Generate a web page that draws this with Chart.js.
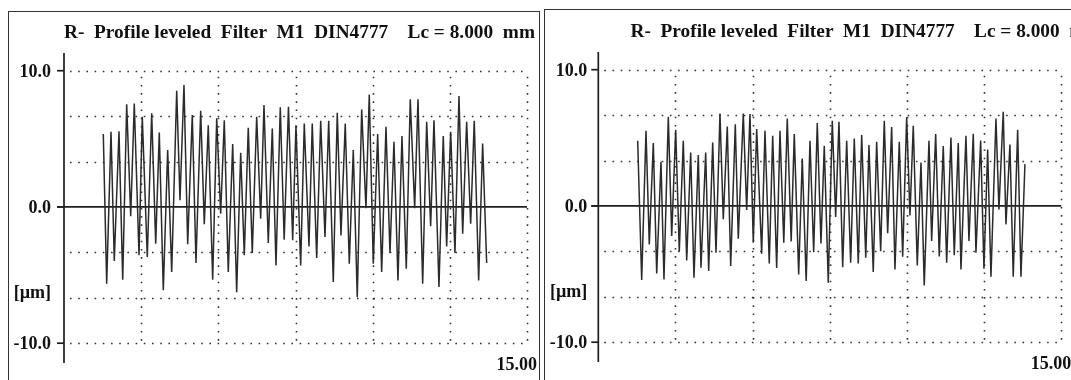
<!DOCTYPE html>
<html>
<head>
<meta charset="utf-8">
<script src="https://cdn.jsdelivr.net/npm/chart.js@4.4.1/dist/chart.umd.min.js"></script>
<style>
  html, body { margin: 0; padding: 0; background: #fff; width: 1071px; height: 380px; overflow: hidden; }
  .frame { position: absolute; border: 1px solid #333; box-sizing: border-box; }
  canvas { position: absolute; }
</style>
</head>
<body>
<div class="frame" style="left:8px; top:11px; width:532px; height:420px;"></div>
<div class="frame" style="left:544px; top:9px; width:600px; height:420px;"></div>
<canvas id="profileA" width="540" height="380" style="left:0; top:0;"></canvas>
<canvas id="profileB" width="536" height="380" style="left:535px; top:-1px;"></canvas>
<script>
// Heading and axis texts
const titleText = 'R-  Profile leveled  Filter  M1  DIN4777    Lc = 8.000  mm';
const unitLabel = '[\u00b5m]';
const lengthLabel = '15.00';

// Vertical axis: labelled ticks and dotted grid levels [µm]
const yTickValues = [10, 0, -10];
const yTickLabels = ['10.0', '0.0', '-10.0'];
const yGridValues = [10, 6.667, 3.333, -3.333, -6.667, -10];

// Traverse axis: dotted grid positions [mm]
const xGridValues = [2.5, 5, 7.5, 10, 12.5, 15];

// Profile A: peak tips and valley bottoms (position in mm, height in µm)
const aPeakPos = [1.273, 1.523, 1.782, 2.031, 2.277, 2.536, 2.841, 3.087, 3.359, 3.651,
  3.887, 4.156, 4.428, 4.674, 4.947, 5.193, 5.465, 5.724, 5.970, 6.242,
  6.479, 6.748, 7.007, 7.272, 7.515, 7.784, 8.043, 8.316, 8.575, 8.853,
  9.112, 9.372, 9.644, 9.890, 10.162, 10.431, 10.690, 10.949, 11.218, 11.468,
  11.750, 11.986, 12.287, 12.527, 12.796, 13.045, 13.291, 13.563];
const aPeakHeight = [5.35, 5.51, 5.56, 7.53, 7.60, 6.62, 6.87, 5.47, 4.17, 8.53,
  8.95, 6.74, 7.06, 6.00, 6.50, 6.37, 4.61, 3.97, 5.81, 6.62,
  7.48, 5.76, 7.31, 7.36, 6.00, 6.13, 6.13, 6.32, 6.32, 6.91,
  6.13, 4.17, 7.16, 8.26, 5.35, 5.88, 4.78, 5.20, 7.90, 7.90,
  6.26, 6.37, 5.20, 5.51, 8.14, 6.26, 6.32, 4.66];
const aValleyPos = [1.383, 1.629, 1.902, 2.161, 2.430, 2.698, 2.971, 3.217, 3.489, 3.758,
  4.007, 4.276, 4.545, 4.817, 5.076, 5.322, 5.594, 5.841, 6.100, 6.372,
  6.618, 6.868, 7.133, 7.409, 7.668, 7.937, 8.186, 8.455, 8.724, 8.973,
  9.242, 9.501, 9.783, 10.020, 10.292, 10.561, 10.820, 11.089, 11.361, 11.620,
  11.879, 12.148, 12.397, 12.666, 12.916, 13.175, 13.434, 13.693];
const aValleyHeight = [-5.63, -3.97, -5.34, -0.68, -3.55, -3.68, -2.70, -6.12, -4.78, 0.49,
  -2.74, -4.12, -1.27, -5.34, -0.50, -4.78, -6.25, -3.55, -3.38, -0.86,
  -2.65, -4.29, -2.40, -2.45, -4.29, -2.90, -3.75, -2.20, -5.51, -2.10,
  -4.17, -6.62, -0.10, -4.17, -4.78, -3.38, -5.39, -4.53, -0.10, -5.63,
  -1.42, -5.88, -2.90, -3.38, -1.96, -1.23, -5.39, -4.12];

// Profile B: peak tips and valley bottoms (position in mm, height in µm)
const bPeakPos = [1.276, 1.545, 1.782, 2.031, 2.268, 2.507, 2.753, 2.993, 3.239, 3.479,
  3.706, 3.942, 4.179, 4.438, 4.697, 4.914, 5.131, 5.400, 5.650, 5.886,
  6.122, 6.349, 6.608, 6.858, 7.094, 7.321, 7.580, 7.797, 8.047, 8.293,
  8.533, 8.769, 9.018, 9.265, 9.504, 9.751, 9.990, 10.204, 10.454, 10.713,
  10.930, 11.176, 11.425, 11.662, 11.911, 12.148, 12.387, 12.614, 12.883, 13.119,
  13.336, 13.586, 13.822];
const bPeakHeight = [4.78, 5.51, 4.61, 3.24, 6.55, 5.59, 4.78, 3.92, 3.73, 3.92,
  4.66, 6.79, 5.83, 6.00, 6.79, 6.74, 5.64, 5.51, 5.15, 5.51,
  6.42, 5.27, 3.48, 4.78, 6.08, 4.41, 6.25, 6.17, 4.78, 4.95,
  5.20, 4.47, 4.71, 6.25, 5.80, 4.71, 6.50, 5.88, 3.19, 4.78,
  5.27, 4.40, 5.02, 4.61, 5.15, 5.30, 4.80, 4.15, 6.42, 6.91,
  4.50, 5.60, 3.07];
const bValleyPos = [1.406, 1.652, 1.892, 2.128, 2.378, 2.624, 2.864, 3.100, 3.327, 3.576,
  3.813, 4.049, 4.289, 4.535, 4.807, 5.021, 5.293, 5.539, 5.779, 6.009,
  6.249, 6.492, 6.735, 6.978, 7.214, 7.451, 7.690, 7.917, 8.176, 8.422,
  8.665, 8.908, 9.148, 9.375, 9.611, 9.861, 10.097, 10.334, 10.560, 10.800,
  11.046, 11.286, 11.532, 11.749, 12.008, 12.235, 12.494, 12.721, 12.980, 13.207,
  13.443, 13.693];
const bValleyHeight = [-5.44, -2.82, -4.95, -5.39, -2.20, -3.33, -4.00, -5.27, -4.53, -4.78,
  -3.43, -0.98, -4.40, -2.40, -0.30, -2.70, -3.50, -4.22, -4.55, -2.70,
  -2.60, -5.03, -5.51, -3.40, -2.75, -5.63, -0.80, -4.50, -4.17, -4.22,
  -3.80, -4.85, -3.33, -2.00, -4.66, -3.72, -0.69, -4.36, -5.83, -2.57,
  -3.70, -4.17, -3.62, -4.66, -2.57, -3.43, -4.60, -5.20, -0.25, -1.35,
  -5.20, -5.20];

// Merge tips and bottoms into one trace ordered along the traverse
function buildTrace(pPos, pH, vPos, vH) {
  const pts = [];
  for (let i = 0; i < pPos.length; i++) {
    pts.push({ x: pPos[i], y: pH[i] });
    if (i < vPos.length) pts.push({ x: vPos[i], y: vH[i] });
  }
  return pts;
}

const INK = '#111';
const LABEL_FONT = 'bold 18px "Liberation Serif", "Times New Roman", serif';
const TITLE_FONT = 'bold 19px "Liberation Serif", "Times New Roman", serif';

// Draws the dotted grid, zero line, vertical axis, tick labels and heading
const profileFrame = {
  id: 'profileFrame',
  beforeDatasetsDraw(chart, args, opts) {
    const ctx = chart.ctx;
    const xs = chart.scales.x, ys = chart.scales.y;
    const x0 = xs.getPixelForValue(0), x15 = xs.getPixelForValue(15);
    const yTop = ys.getPixelForValue(10), yBot = ys.getPixelForValue(-10);
    ctx.save();

    // dotted grid
    ctx.strokeStyle = '#333';
    ctx.lineWidth = 1.6;
    ctx.setLineDash([1.6, 6.6]);
    yGridValues.forEach(v => {
      const y = Math.round(ys.getPixelForValue(v)) + 0.5;
      ctx.beginPath(); ctx.moveTo(x0 + 6, y); ctx.lineTo(x15, y); ctx.stroke();
    });
    xGridValues.forEach(v => {
      const x = Math.round(xs.getPixelForValue(v)) + 0.5;
      ctx.beginPath(); ctx.moveTo(x, yTop + 6); ctx.lineTo(x, yBot); ctx.stroke();
    });
    ctx.setLineDash([]);

    // vertical axis with tick marks
    ctx.strokeStyle = '#1e1e1e';
    ctx.lineWidth = 1.7;
    ctx.beginPath();
    ctx.moveTo(x0, ys.getPixelForValue(11.3));
    ctx.lineTo(x0, ys.getPixelForValue(-11.45));
    ctx.stroke();
    yTickValues.forEach(v => {
      const y = ys.getPixelForValue(v);
      ctx.beginPath(); ctx.moveTo(x0 - 7, y); ctx.lineTo(x0, y); ctx.stroke();
    });

    // zero reference line
    const yz = ys.getPixelForValue(0);
    ctx.beginPath(); ctx.moveTo(x0 - 7, yz); ctx.lineTo(x15, yz); ctx.stroke();

    // labels
    ctx.fillStyle = INK;
    ctx.font = LABEL_FONT;
    ctx.textAlign = 'right';
    ctx.textBaseline = 'middle';
    const lx = x0 - opts.labelGap;
    yTickValues.forEach((v, i) => {
      ctx.fillText(yTickLabels[i], lx, ys.getPixelForValue(v) + 1.5);
    });
    ctx.fillText(unitLabel, lx, ys.getPixelForValue(-6.35));
    ctx.fillText(lengthLabel, x15 + 10, yBot + 22);

    // heading, fitted to its printed width
    ctx.font = TITLE_FONT;
    ctx.textAlign = 'left';
    ctx.textBaseline = 'alphabetic';
    const w = ctx.measureText(titleText).width;
    ctx.translate(opts.titleX, opts.titleY);
    ctx.scale(opts.titleWidth / w, 1);
    ctx.fillText(titleText, 0, 0);
    ctx.restore();
  }
};

function makeProfileChart(id, trace, pad, frameOpts) {
  return new Chart(document.getElementById(id), {
    type: 'line',
    data: {
      datasets: [{
        data: trace,
        borderColor: '#2b2b2b',
        borderWidth: 1.5,
        pointRadius: 0,
        tension: 0,
        fill: false,
        clip: false
      }]
    },
    options: {
      responsive: false,
      animation: false,
      events: [],
      parsing: false,
      layout: { padding: pad },
      plugins: {
        legend: { display: false },
        tooltip: { enabled: false },
        title: { display: false },
        profileFrame: frameOpts
      },
      scales: {
        x: { type: 'linear', min: 0, max: 15, display: false },
        y: { type: 'linear', min: -10, max: 10, display: false }
      }
    },
    plugins: [profileFrame]
  });
}

makeProfileChart('profileA',
  buildTrace(aPeakPos, aPeakHeight, aValleyPos, aValleyHeight),
  { left: 64, right: 13, top: 70.7, bottom: 36.8 },
  { labelGap: 13, titleX: 64, titleY: 38, titleWidth: 471 });

makeProfileChart('profileB',
  buildTrace(bPeakPos, bPeakHeight, bValleyPos, bValleyHeight),
  { left: 63.3, right: 9.7, top: 70.7, bottom: 36.8 },
  { labelGap: 11, titleX: 95.5, titleY: 38, titleWidth: 471 });
</script>
</body>
</html>
